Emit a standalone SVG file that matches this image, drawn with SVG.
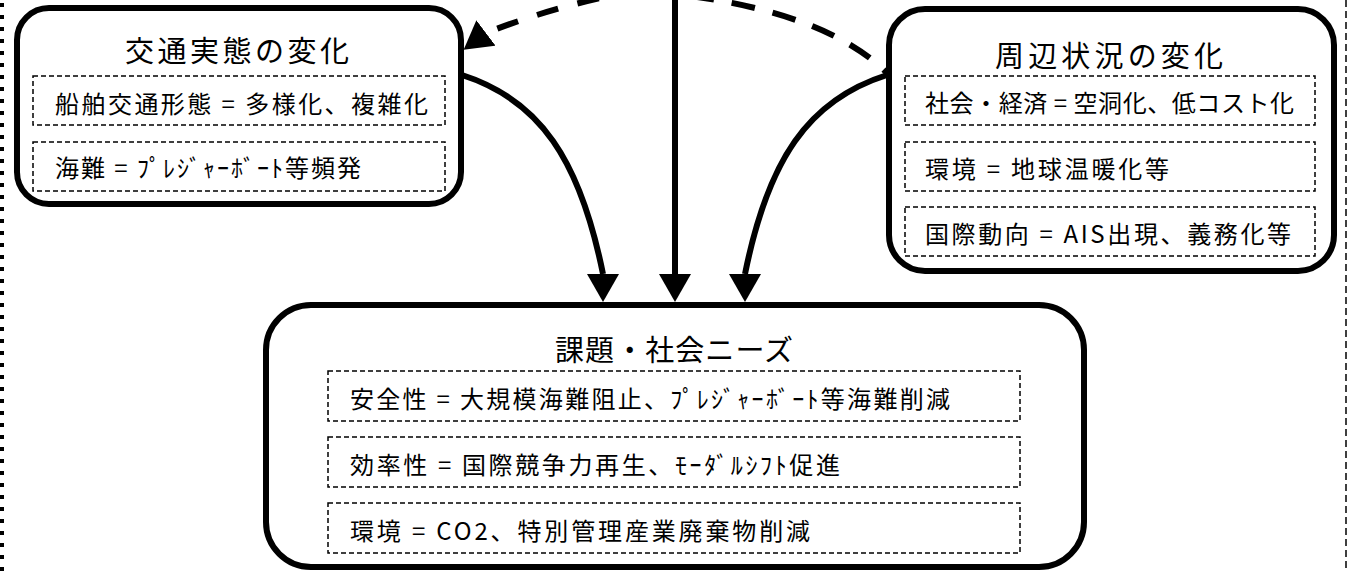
<svg xmlns="http://www.w3.org/2000/svg" width="1347" height="572" viewBox="0 0 1347 572">
<style>
.box{fill:#fff;stroke:#000;stroke-width:6}
.sub{fill:none;stroke:#000;stroke-width:1.5;stroke-dasharray:5 3}
.t{font-family:"Noto Sans CJK JP","Noto Sans",sans-serif;fill:#000}
.title{font-size:29px}
.row{font-size:24px}
.solid{fill:none;stroke:#000;stroke-width:6}
.dash{fill:none;stroke:#000;stroke-width:6}
</style>
<defs>
<marker id="ahDown" markerUnits="userSpaceOnUse" viewBox="0 0 28 32" refX="0" refY="16" markerWidth="28" markerHeight="32" orient="90"><path d="M0,0 L28,16 L0,32 Z" fill="#000"/></marker>
<marker id="ahLeft" markerUnits="userSpaceOnUse" viewBox="0 0 28 32" refX="0" refY="16" markerWidth="28" markerHeight="32" orient="143"><path d="M0,0 L28,16 L0,32 Z" fill="#000"/></marker>
</defs>
<rect width="1347" height="572" fill="#fff"/>
<g id="frame">
<line x1="2" y1="3" x2="2" y2="572" stroke="#000" stroke-width="4" stroke-dasharray="4 8"/>
<line x1="1346" y1="0" x2="1346" y2="572" stroke="#000" stroke-width="1.5" stroke-dasharray="7 4"/>
</g>
<g id="connectors">
<path class="dash" d="M640,-10 Q560,4 486,33" stroke-dasharray="22 20" marker-end="url(#ahLeft)"/>
<path class="dash" d="M690,-4 Q830,15 888,74" stroke-dasharray="24 18"/>
<path class="solid" d="M675,0 L675,274" marker-end="url(#ahDown)"/>
<path class="solid" d="M462,75 C540,100 580,160 603,274" marker-end="url(#ahDown)"/>
<path class="solid" d="M887,75 C808,100 768,160 745,274" marker-end="url(#ahDown)"/>
</g>
<g id="node-traffic">
<rect class="box" x="17" y="8" width="444" height="196" rx="32"/>
<text class="t title" x="125" y="62" textLength="224" lengthAdjust="spacing">交通実態の変化</text>
<rect class="sub" x="33" y="76" width="412" height="49"/>
<text class="t row" x="55" y="113" textLength="373" lengthAdjust="spacing">船舶交通形態 = 多様化、複雑化</text>
<rect class="sub" x="33" y="142" width="412" height="49"/>
<text class="t row" x="55" y="177" textLength="306" lengthAdjust="spacing">海難 = ﾌﾟﾚｼﾞｬｰﾎﾞｰﾄ等頻発</text>
</g>
<g id="node-surroundings">
<rect class="box" x="889" y="9" width="445" height="262" rx="36"/>
<text class="t title" x="995" y="67" textLength="228" lengthAdjust="spacing">周辺状況の変化</text>
<rect class="sub" x="905" y="76" width="410" height="49"/>
<text class="t row" x="925" y="112" textLength="369" lengthAdjust="spacing">社会・経済 = 空洞化、低コスト化</text>
<rect class="sub" x="905" y="142" width="410" height="49"/>
<text class="t row" x="925" y="178" textLength="244" lengthAdjust="spacing">環境 = 地球温暖化等</text>
<rect class="sub" x="905" y="207" width="410" height="49"/>
<text class="t row" x="925" y="243" textLength="366" lengthAdjust="spacing">国際動向 = AIS出現、義務化等</text>
</g>
<g id="node-needs">
<rect class="box" x="266" y="305" width="818" height="262" rx="45" stroke-width="7"/>
<text class="t title" x="555" y="361" textLength="238" lengthAdjust="spacing">課題・社会ニーズ</text>
<rect class="sub" x="328" y="371" width="692" height="50"/>
<text class="t row" x="350" y="408" textLength="600" lengthAdjust="spacing">安全性 = 大規模海難阻止、ﾌﾟﾚｼﾞｬｰﾎﾞｰﾄ等海難削減</text>
<rect class="sub" x="328" y="437" width="692" height="50"/>
<text class="t row" x="350" y="474" textLength="490" lengthAdjust="spacing">効率性 = 国際競争力再生、ﾓｰﾀﾞﾙｼﾌﾄ促進</text>
<rect class="sub" x="328" y="503" width="692" height="50"/>
<text class="t row" x="350" y="540" textLength="460" lengthAdjust="spacing">環境 = CO2、特別管理産業廃棄物削減</text>
</g>
</svg>
